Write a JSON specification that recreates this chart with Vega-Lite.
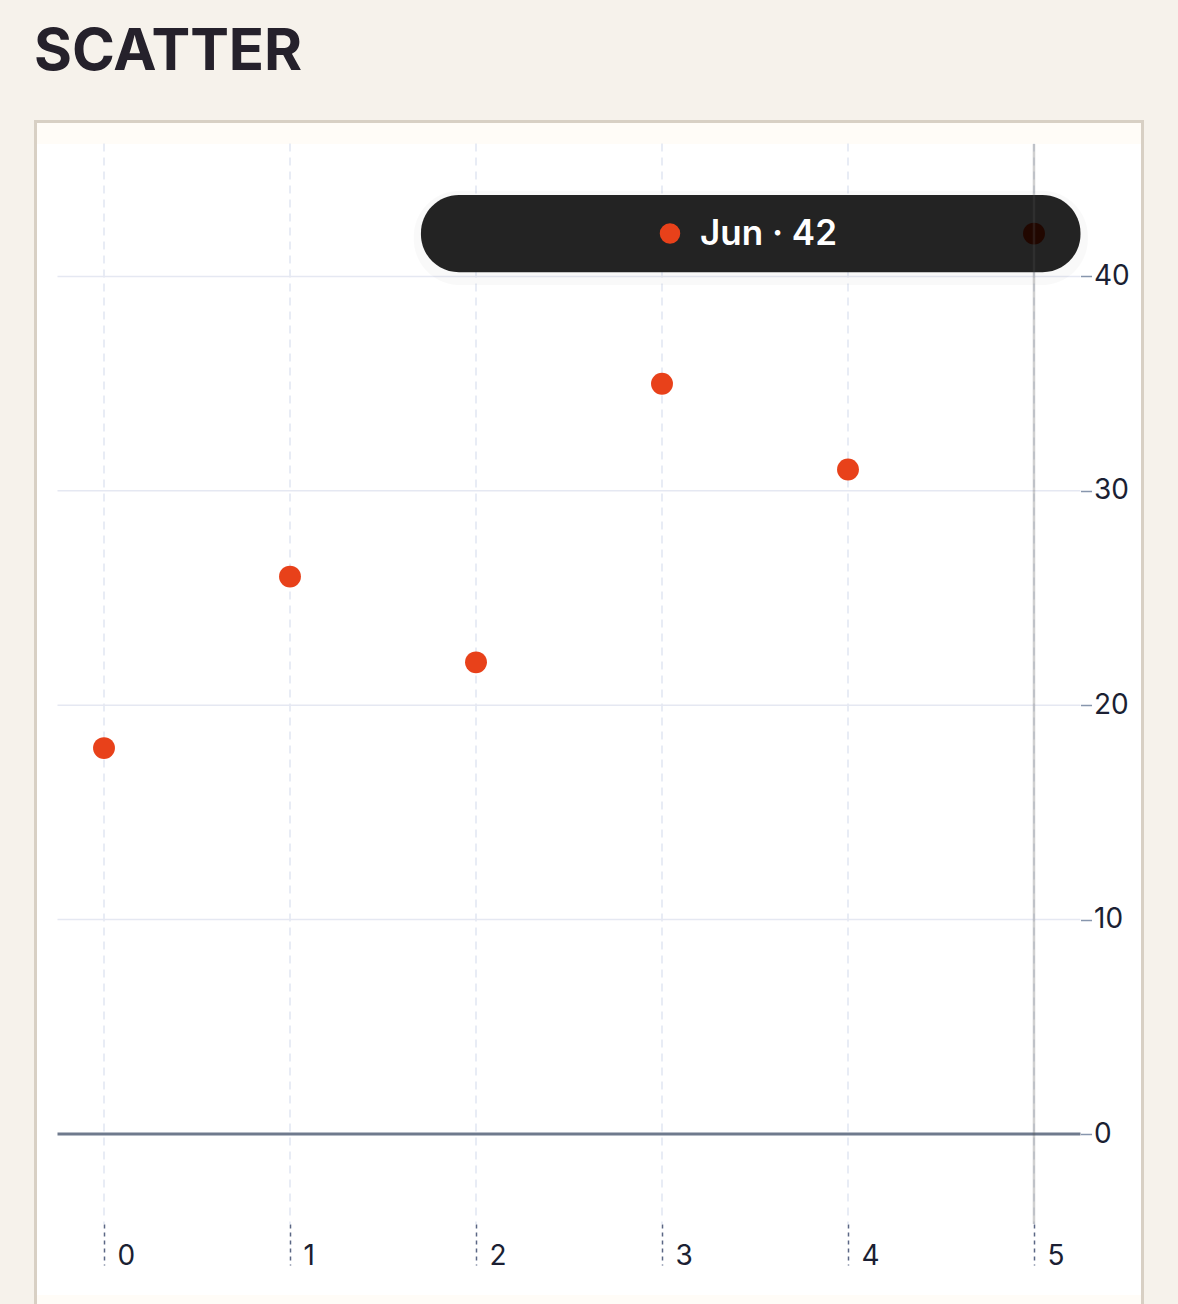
{
  "$schema": "https://vega.github.io/schema/vega-lite/v6.json",
  "width": 1104,
  "height": 1151,
  "autosize": {"type": "none"},
  "padding": {"left": 37, "top": 144, "right": 37, "bottom": 9},
  "background": "#f6f2eb",
  "title": {
    "text": "SCATTER",
    "anchor": "start",
    "font": "Inter",
    "fontSize": 58,
    "fontWeight": 700,
    "color": "#25212b",
    "offset": 38
  },
  "datasets": {
    "points": [
      {"month": "Jan", "idx": 0, "value": 18},
      {"month": "Feb", "idx": 1, "value": 26},
      {"month": "Mar", "idx": 2, "value": 22},
      {"month": "Apr", "idx": 3, "value": 35},
      {"month": "May", "idx": 4, "value": 31},
      {"month": "Jun", "idx": 5, "value": 42}
    ],
    "hgrid": [{"v": 10}, {"v": 20}, {"v": 30}, {"v": 40}],
    "vgrid": [{"i": 0}, {"i": 1}, {"i": 2}, {"i": 3}, {"i": 4}, {"i": 5}],
    "one": [{"k": 1}]
  },
  "layer": [
    {
      "data": {"name": "one"},
      "mark": {"type": "rect", "fill": "#fffcf7", "stroke": "#d8d0c4", "strokeWidth": 3},
      "encoding": {
        "x": {"datum": -0.3683, "type": "quantitative", "scale": {"domain": [-0.3602, 5.5753], "nice": false, "zero": false}, "axis": {"values": [0, 1, 2, 3, 4, 5], "title": null, "orient": "bottom", "zindex": 1}},
        "x2": {"datum": 5.5833},
        "y": {"datum": 47.23, "type": "quantitative", "scale": {"domain": [-7.51, 46.18], "nice": false, "zero": false}, "axis": {"values": [0, 10, 20, 30, 40], "title": null, "orient": "right", "zindex": 1}},
        "y2": {"datum": -9}
      }
    },
    {
      "data": {"name": "one"},
      "mark": {"type": "rect", "fill": "#ffffff"},
      "encoding": {
        "x": {"datum": -0.3602, "type": "quantitative", "scale": {"domain": [-0.3602, 5.5753], "nice": false, "zero": false}, "axis": {"values": [0, 1, 2, 3, 4, 5], "title": null, "orient": "bottom", "zindex": 1}},
        "x2": {"datum": 5.5753},
        "y": {"datum": 46.18, "type": "quantitative", "scale": {"domain": [-7.51, 46.18], "nice": false, "zero": false}, "axis": {"values": [0, 10, 20, 30, 40], "title": null, "orient": "right", "zindex": 1}},
        "y2": {"datum": -7.51}
      }
    },
    {
      "data": {"name": "vgrid"},
      "mark": {"type": "rule", "stroke": "#d9e0ee", "strokeWidth": 1.2, "strokeDash": [8, 6]},
      "encoding": {
        "x": {"field": "i", "type": "quantitative", "scale": {"domain": [-0.3602, 5.5753], "nice": false, "zero": false}, "axis": {"values": [0, 1, 2, 3, 4, 5], "title": null, "orient": "bottom", "zindex": 1}},
        "y": {"datum": 46.2, "type": "quantitative", "scale": {"domain": [-7.51, 46.18], "nice": false, "zero": false}, "axis": {"values": [0, 10, 20, 30, 40], "title": null, "orient": "right", "zindex": 1}},
        "y2": {"datum": -4.2}
      }
    },
    {
      "data": {"name": "hgrid"},
      "mark": {"type": "rule", "stroke": "#e5e8f2", "strokeWidth": 1.5},
      "encoding": {
        "y": {"field": "v", "type": "quantitative", "scale": {"domain": [-7.51, 46.18], "nice": false, "zero": false}, "axis": {"values": [0, 10, 20, 30, 40], "title": null, "orient": "right", "zindex": 1}},
        "x": {"datum": -0.25, "type": "quantitative", "scale": {"domain": [-0.3602, 5.5753], "nice": false, "zero": false}, "axis": {"values": [0, 1, 2, 3, 4, 5], "title": null, "orient": "bottom", "zindex": 1}},
        "x2": {"datum": 5.25}
      }
    },
    {
      "data": {"name": "one"},
      "mark": {"type": "rule", "stroke": "#6f7a8d", "strokeWidth": 3},
      "encoding": {
        "y": {"datum": 0, "type": "quantitative", "scale": {"domain": [-7.51, 46.18], "nice": false, "zero": false}, "axis": {"values": [0, 10, 20, 30, 40], "title": null, "orient": "right", "zindex": 1}},
        "x": {"datum": -0.25, "type": "quantitative", "scale": {"domain": [-0.3602, 5.5753], "nice": false, "zero": false}, "axis": {"values": [0, 1, 2, 3, 4, 5], "title": null, "orient": "bottom", "zindex": 1}},
        "x2": {"datum": 5.25}
      }
    },
    {
      "data": {"name": "points"},
      "mark": {"type": "circle", "size": 480, "color": "#e8411a", "opacity": 1},
      "encoding": {
        "x": {"field": "idx", "type": "quantitative", "scale": {"domain": [-0.3602, 5.5753], "nice": false, "zero": false}, "axis": {"values": [0, 1, 2, 3, 4, 5], "title": null, "orient": "bottom", "zindex": 1}},
        "y": {"field": "value", "type": "quantitative", "scale": {"domain": [-7.51, 46.18], "nice": false, "zero": false}, "axis": {"values": [0, 10, 20, 30, 40], "title": null, "orient": "right", "zindex": 1}}
      }
    },
    {
      "data": {"name": "one"},
      "mark": {"type": "rect", "fill": "#000000", "opacity": 0.025, "cornerRadius": 46},
      "encoding": {
        "x": {"datum": 1.665, "type": "quantitative", "scale": {"domain": [-0.3602, 5.5753], "nice": false, "zero": false}, "axis": {"values": [0, 1, 2, 3, 4, 5], "title": null, "orient": "bottom", "zindex": 1}},
        "x2": {"datum": 5.29},
        "y": {"datum": 44.0, "type": "quantitative", "scale": {"domain": [-7.51, 46.18], "nice": false, "zero": false}, "axis": {"values": [0, 10, 20, 30, 40], "title": null, "orient": "right", "zindex": 1}},
        "y2": {"datum": 39.6}
      }
    },
    {
      "data": {"name": "one"},
      "mark": {"type": "rect", "fill": "#232323", "cornerRadius": 38},
      "encoding": {
        "x": {"datum": 1.704, "type": "quantitative", "scale": {"domain": [-0.3602, 5.5753], "nice": false, "zero": false}, "axis": {"values": [0, 1, 2, 3, 4, 5], "title": null, "orient": "bottom", "zindex": 1}},
        "x2": {"datum": 5.25},
        "y": {"datum": 43.8, "type": "quantitative", "scale": {"domain": [-7.51, 46.18], "nice": false, "zero": false}, "axis": {"values": [0, 10, 20, 30, 40], "title": null, "orient": "right", "zindex": 1}},
        "y2": {"datum": 40.2}
      }
    },
    {
      "data": {"name": "points"},
      "transform": [{"filter": "datum.month == 'Jun'"}],
      "mark": {"type": "circle", "size": 420, "color": "#e8411a", "opacity": 1},
      "encoding": {
        "x": {"datum": 3.043, "type": "quantitative", "scale": {"domain": [-0.3602, 5.5753], "nice": false, "zero": false}, "axis": {"values": [0, 1, 2, 3, 4, 5], "title": null, "orient": "bottom", "zindex": 1}},
        "y": {"field": "value", "type": "quantitative", "scale": {"domain": [-7.51, 46.18], "nice": false, "zero": false}, "axis": {"values": [0, 10, 20, 30, 40], "title": null, "orient": "right", "zindex": 1}}
      }
    },
    {
      "data": {"name": "points"},
      "transform": [
        {"filter": "datum.month == 'Jun'"},
        {"calculate": "datum.month + ' · ' + datum.value", "as": "label"}
      ],
      "mark": {"type": "text", "align": "left", "baseline": "middle", "font": "Inter", "fontSize": 35, "fontWeight": 600, "color": "#ffffff"},
      "encoding": {
        "x": {"datum": 3.204, "type": "quantitative", "scale": {"domain": [-0.3602, 5.5753], "nice": false, "zero": false}, "axis": {"values": [0, 1, 2, 3, 4, 5], "title": null, "orient": "bottom", "zindex": 1}},
        "y": {"field": "value", "type": "quantitative", "scale": {"domain": [-7.51, 46.18], "nice": false, "zero": false}, "axis": {"values": [0, 10, 20, 30, 40], "title": null, "orient": "right", "zindex": 1}},
        "text": {"field": "label"}
      }
    },
    {
      "data": {"name": "points"},
      "transform": [{"filter": "datum.month == 'Jun'"}],
      "mark": {"type": "circle", "size": 480, "color": "#210700", "opacity": 1},
      "encoding": {
        "x": {"field": "idx", "type": "quantitative", "scale": {"domain": [-0.3602, 5.5753], "nice": false, "zero": false}, "axis": {"values": [0, 1, 2, 3, 4, 5], "title": null, "orient": "bottom", "zindex": 1}},
        "y": {"field": "value", "type": "quantitative", "scale": {"domain": [-7.51, 46.18], "nice": false, "zero": false}, "axis": {"values": [0, 10, 20, 30, 40], "title": null, "orient": "right", "zindex": 1}}
      }
    },
    {
      "data": {"name": "one"},
      "mark": {"type": "rule", "stroke": "#535353", "strokeOpacity": 0.27, "strokeWidth": 2.5},
      "encoding": {
        "x": {"datum": 5, "type": "quantitative", "scale": {"domain": [-0.3602, 5.5753], "nice": false, "zero": false}, "axis": {"values": [0, 1, 2, 3, 4, 5], "title": null, "orient": "bottom", "zindex": 1}},
        "y": {"datum": 46.18, "type": "quantitative", "scale": {"domain": [-7.51, 46.18], "nice": false, "zero": false}, "axis": {"values": [0, 10, 20, 30, 40], "title": null, "orient": "right", "zindex": 1}},
        "y2": {"datum": -4.2}
      }
    }
  ],
  "config": {
    "view": {"stroke": null, "fill": null},
    "axisX": {
      "domain": false,
      "grid": false,
      "offset": -71,
      "tickSize": 41,
      "tickColor": "#5b6785",
      "tickDash": [4, 4],
      "tickWidth": 1.5,
      "labelFont": "Inter",
      "labelFontSize": 28,
      "labelColor": "#1b1f33",
      "labelAlign": "left",
      "labelBaseline": "middle",
      "labelPadding": -9,
      "labelOffset": 13,
      "labelFlush": false,
      "labelOverlap": false
    },
    "axisY": {
      "domain": false,
      "grid": false,
      "offset": -60.5,
      "tickSize": 11,
      "tickColor": "#8796ad",
      "tickWidth": 1.5,
      "labelFont": "Inter",
      "labelFontSize": 28,
      "labelColor": "#1b1f33",
      "labelPadding": 2,
      "labelFlush": false,
      "labelOverlap": false
    }
  }
}
